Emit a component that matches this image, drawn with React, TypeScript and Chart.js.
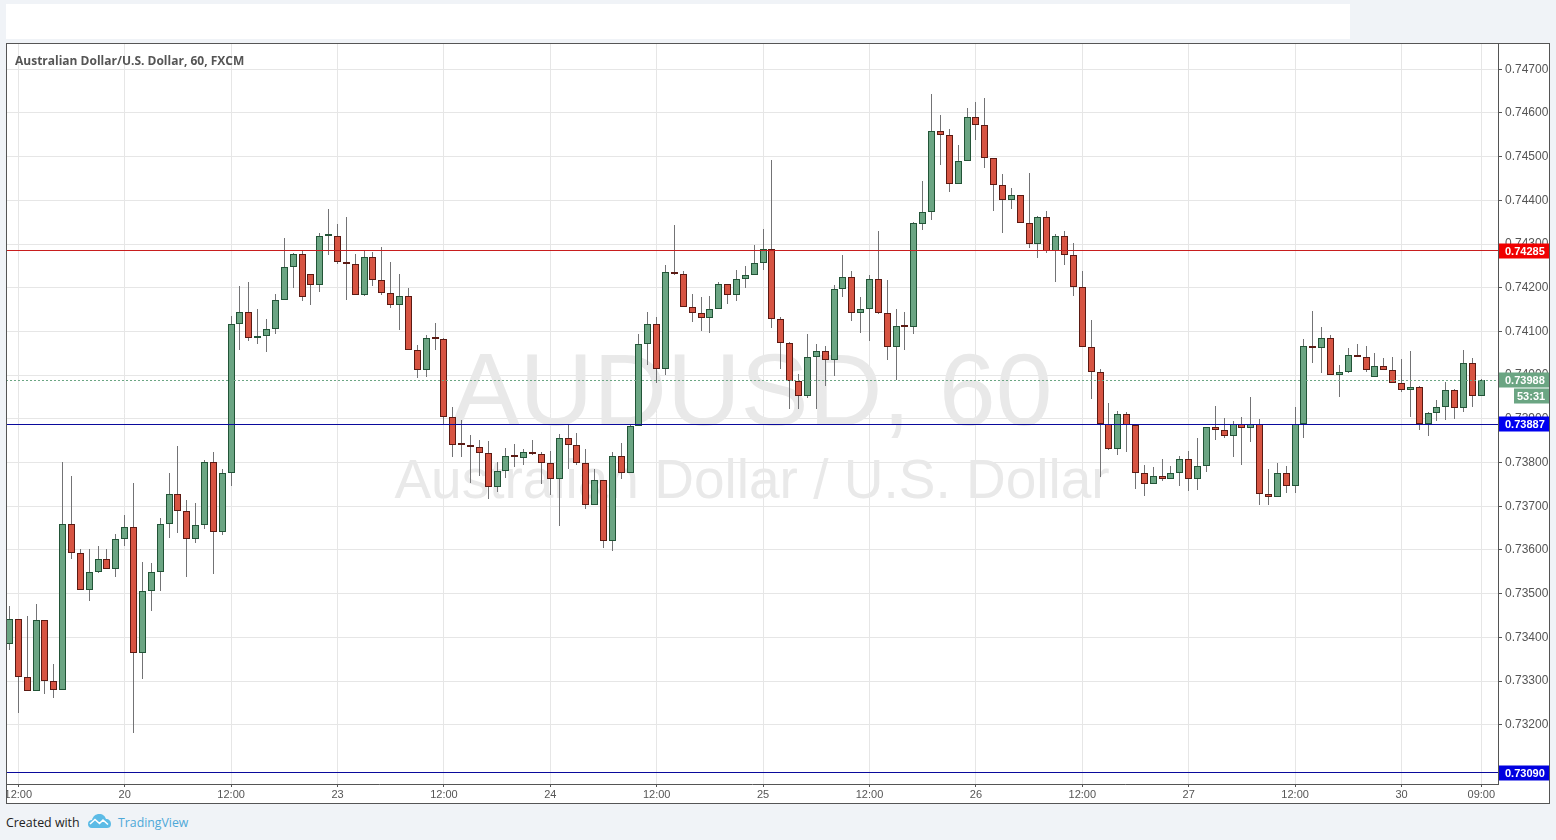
import React, { useEffect, useRef } from "react";
import { Chart, registerables } from "chart.js";

Chart.register(...registerables);

const opens = [
  .73385,.73442,.73309,.73278,.73440,.73301,.73280,.73660,.73592,.73509,
  .73550,.73580,.73557,.73626,.73653,.73365,.73505,.73550,.73660,.73729,
  .73690,.73624,.73656,.73802,.73642,.73775,.74116,.74144,.74084,.74089,
  .74105,.74171,.74247,.74277,.74231,.74206,.74318,.74318,.74258,.74254,
  .74183,.74270,.74217,.74187,.74160,.74180,.74057,.74011,.74086,.74082,
  .73903,.73841,.73841,.73835,.73821,.73745,.73780,.73816,.73811,.73823,
  .73820,.73800,.73763,.73857,.73841,.73800,.73703,.73761,.73621,.73816,
  .73777,.73884,.74072,.74118,.74015,.74237,.74232,.74157,.74141,.74131,
  .74152,.74209,.74184,.74221,.74230,.74257,.74289,.74129,.74074,.73987,
  .73953,.74042,.74056,.74035,.74198,.74225,.74143,.74152,.74221,.74143,
  .74065,.74113,.74111,.74345,.74373,.74558,.74549,.74437,.74489,.74590,
  .74572,.74496,.74435,.74400,.74412,.74347,.74299,.74361,.74285,.74318,
  .74276,.74201,.74064,.74008,.73889,.73832,.73910,.73885,.73775,.73750,
  .73768,.73763,.73775,.73809,.73763,.73793,.73882,.73875,.73860,.73889,
  .73880,.73887,.73729,.73722,.73777,.73747,.73889,.74066,.74061,.74084,
  .74000,.74007,.74046,.74041,.73996,.74021,.74011,.73982,.73966,.73973,
  .73888,.73914,.73927,.73966,.73925,.74027,.73952,
];
const closes = [
  .73442,.73309,.73278,.73440,.73301,.73280,.73660,.73592,.73509,.73550,
  .73580,.73557,.73626,.73653,.73365,.73505,.73550,.73660,.73729,.73690,
  .73624,.73656,.73802,.73642,.73775,.74116,.74144,.74084,.74089,.74105,
  .74171,.74247,.74277,.74178,.74206,.74318,.74319,.74258,.74254,.74183,
  .74270,.74217,.74187,.74160,.74180,.74057,.74011,.74086,.74082,.73903,
  .73841,.73840,.73835,.73821,.73745,.73780,.73816,.73812,.73823,.73820,
  .73800,.73763,.73857,.73841,.73800,.73703,.73761,.73621,.73816,.73777,
  .73884,.74072,.74118,.74015,.74237,.74232,.74157,.74141,.74131,.74152,
  .74209,.74184,.74221,.74230,.74257,.74289,.74129,.74074,.73987,.73953,
  .74042,.74056,.74035,.74198,.74225,.74143,.74152,.74221,.74143,.74065,
  .74113,.74111,.74347,.74373,.74558,.74549,.74437,.74489,.74590,.74572,
  .74496,.74435,.74400,.74412,.74347,.74299,.74361,.74285,.74318,.74276,
  .74201,.74064,.74008,.73889,.73832,.73910,.73885,.73775,.73750,.73768,
  .73763,.73775,.73809,.73763,.73793,.73882,.73875,.73860,.73889,.73880,
  .73887,.73729,.73722,.73777,.73747,.73889,.74066,.74061,.74084,.74000,
  .74007,.74046,.74041,.74011,.74021,.74011,.73982,.73966,.73973,.73888,
  .73914,.73927,.73966,.73925,.74027,.73952,.73988,
];
const highs = [
  .73471,.73442,.73448,.73476,.73440,.73338,.73801,.73769,.73601,.73601,
  .73608,.73601,.73637,.73679,.73752,.73573,.73571,.73674,.73777,.73837,
  .73715,.73708,.73805,.73825,.73784,.74135,.74204,.74213,.74151,.74128,
  .74185,.74314,.74279,.74284,.74231,.74326,.74380,.74346,.74362,.74277,
  .74285,.74282,.74293,.74259,.74232,.74199,.74069,.74091,.74119,.74085,
  .73926,.73897,.73863,.73851,.73849,.73801,.73833,.73842,.73832,.73851,
  .73823,.73826,.73865,.73889,.73868,.73830,.73784,.73761,.73825,.73844,
  .73889,.74095,.74145,.74134,.74253,.74343,.74239,.74186,.74178,.74180,
  .74214,.74209,.74241,.74250,.74298,.74335,.74493,.74133,.74076,.74003,
  .74095,.74072,.74067,.74207,.74275,.74239,.74178,.74230,.74330,.74218,
  .74152,.74145,.74351,.74444,.74643,.74595,.74563,.74526,.74611,.74625,
  .74634,.74496,.74460,.74428,.74412,.74462,.74364,.74375,.74322,.74329,
  .74302,.74238,.74125,.74015,.73937,.73917,.73915,.73887,.73795,.73789,
  .73809,.73793,.73814,.73827,.73855,.73882,.73930,.73901,.73896,.73903,
  .73951,.73899,.73784,.73800,.73791,.73928,.74082,.74146,.74111,.74091,
  .74023,.74061,.74071,.74066,.74050,.74039,.74041,.74036,.74055,.73975,
  .73916,.73943,.73984,.73968,.74057,.74039,.73991,
];
const lows = [
  .73370,.73227,.73278,.73278,.73270,.73261,.73280,.73579,.73509,.73483,
  .73547,.73557,.73538,.73608,.73181,.73305,.73460,.73506,.73628,.73639,
  .73538,.73616,.73648,.73545,.73634,.73747,.74057,.74079,.74072,.74054,
  .74095,.74171,.74199,.74170,.74161,.74190,.74274,.74255,.74173,.74183,
  .74180,.74205,.74183,.74154,.74103,.74057,.73994,.73996,.74058,.73886,
  .73813,.73813,.73753,.73770,.73717,.73732,.73765,.73790,.73794,.73817,
  .73751,.73726,.73655,.73785,.73795,.73694,.73703,.73604,.73598,.73762,
  .73777,.73884,.74023,.73982,.74000,.74228,.74157,.74121,.74100,.74096,
  .74152,.74162,.74169,.74199,.74230,.74241,.74107,.74015,.73923,.73922,
  .73947,.73923,.73975,.73998,.74179,.74123,.74096,.74079,.74140,.74034,
  .73989,.74057,.74093,.74333,.74356,.74480,.74418,.74437,.74489,.74537,
  .74473,.74376,.74326,.74379,.74347,.74292,.74269,.74280,.74214,.74251,
  .74180,.74064,.73946,.73766,.73828,.73818,.73825,.73740,.73724,.73750,
  .73758,.73763,.73747,.73735,.73737,.73779,.73852,.73855,.73813,.73795,
  .73847,.73703,.73703,.73720,.73731,.73731,.73856,.74027,.74004,.74000,
  .73951,.74005,.74041,.74007,.73996,.74011,.73982,.73961,.73904,.73874,
  .73861,.73895,.73897,.73899,.73916,.73927,.73952,
];

const timeTickBars = [1, 13, 25, 37, 49, 61, 73, 85, 97, 109, 121, 133, 145, 157, 166];
const timeTickLabels = ["12:00", "20", "12:00", "23", "12:00", "24", "12:00", "25", "12:00", "26", "12:00", "27", "12:00", "30", "09:00"];
const priceTicks = [0.732, 0.733, 0.734, 0.735, 0.736, 0.737, 0.738, 0.739, 0.74, 0.741, 0.742, 0.743, 0.744, 0.745, 0.746, 0.747];

const resistanceLevel = 0.74285;
const supportLevel = 0.73887;
const lowerLevel = 0.7309;
const lastPrice = 0.73988;
const countdown = "53:31";

const X_MIN = -0.387;
const X_MAX = 167.88;
const Y_MIN = 0.730643;
const Y_MAX = 0.7476;

const UP_FILL = "#6ba583";
const DOWN_FILL = "#d75442";
const UP_EDGE = "#225437";
const DOWN_EDGE = "#5b1a13";
const WICK = "#737375";
const INK = "#555555";
const SANS = '"Liberation Sans", Arial, sans-serif';

const levelLine = (y: number, color: string, dash: number[] = []) => ({
  type: "line" as const,
  data: [{ x: X_MIN, y }, { x: X_MAX, y }],
  borderColor: color,
  borderWidth: 1,
  borderDash: dash,
  pointRadius: 0,
  order: 1,
  clip: true,
});

const noPadding = (s: any) => {
  s.paddingLeft = 0;
  s.paddingRight = 0;
  s.paddingTop = 0;
  s.paddingBottom = 0;
};

const pixelSnap = {
  id: "pixelSnap",
  afterDatasetsUpdate(chart: any) {
    chart.data.datasets.forEach((ds: any, i: number) => {
      const meta = chart.getDatasetMeta(i);
      meta.data.forEach((el: any) => {
        if (ds.type === "bar") {
          el.x = Math.floor(el.x) + 0.5;
          el.y = Math.round(el.y);
          el.base = Math.round(el.base);
        } else {
          el.y = Math.floor(el.y) + 0.5;
        }
      });
    });
  },
};

const decorations = {
  id: "decorations",
  beforeDraw(chart: any) {
    const { ctx, width, height } = chart;
    ctx.save();
    ctx.fillStyle = "#ffffff";
    ctx.fillRect(0, 0, width, height);
    ctx.restore();
  },
  beforeDatasetsDraw(chart: any) {
    const { ctx, chartArea } = chart;
    const cx = (chartArea.left + chartArea.right) / 2;
    ctx.save();
    ctx.fillStyle = "#e9e9e9";
    ctx.textAlign = "center";
    ctx.textBaseline = "alphabetic";
    ctx.font = `102px ${SANS}`;
    ctx.fillText("AUDUSD, 60", cx, 382);
    ctx.font = `55px ${SANS}`;
    ctx.fillText("Australian Dollar / U.S. Dollar", cx, 455);
    ctx.restore();
  },
  afterDraw(chart: any) {
    const { ctx, width, height, chartArea } = chart;
    const y = chart.scales.y;
    const tag = (value: number, label: string, color: string, left: number, top?: number) => {
      const cy = top ?? Math.round(y.getPixelForValue(value));
      ctx.fillStyle = color;
      ctx.fillRect(left, cy - 7.5, width - 1 - left, 15);
      ctx.fillStyle = "#ffffff";
      ctx.font = `bold 11px ${SANS}`;
      ctx.textAlign = "left";
      ctx.textBaseline = "middle";
      ctx.fillText(label, left === chartArea.right + 1 ? chartArea.right + 7 : left + 3, cy + 0.5);
    };
    ctx.save();
    const sx = chartArea.right + 1;
    tag(resistanceLevel, resistanceLevel.toFixed(5), "#f00000", sx);
    tag(lastPrice, lastPrice.toFixed(5), UP_FILL, sx);
    tag(lastPrice, countdown, UP_FILL, chartArea.right + 16, Math.round(y.getPixelForValue(lastPrice)) + 16);
    tag(supportLevel, supportLevel.toFixed(5), "#0000f0", sx);
    tag(lowerLevel, lowerLevel.toFixed(5), "#0000e0", sx);

    ctx.fillStyle = INK;
    ctx.font = 'bold 12px "Open Sans", sans-serif';
    ctx.textAlign = "left";
    ctx.textBaseline = "middle";
    ctx.fillText("Australian Dollar/U.S. Dollar, 60, FXCM", 9, 18.5);

    ctx.strokeStyle = INK;
    ctx.lineWidth = 1;
    ctx.strokeRect(0.5, 0.5, width - 1, height - 1);
    ctx.restore();
  },
};

export default function App() {
  const ref = useRef<HTMLCanvasElement | null>(null);

  useEffect(() => {
    if (!ref.current) return;
    const isUp = (i: number) => closes[i] >= opens[i];
    const chart = new Chart(ref.current, {
      type: "bar",
      data: {
        datasets: [
          {
            type: "bar",
            data: opens.map((_, i) => ({ x: i, y: [lows[i], highs[i]] })),
            backgroundColor: WICK,
            borderWidth: 0,
            barThickness: 1,
            grouped: false,
            inflateAmount: 0,
            order: 3,
          },
          {
            type: "bar",
            data: opens.map((o, i) => ({ x: i, y: [o, closes[i]] })),
            backgroundColor: (c: any) => (isUp(c.dataIndex) ? UP_FILL : DOWN_FILL),
            borderColor: (c: any) => (isUp(c.dataIndex) ? UP_EDGE : DOWN_EDGE),
            borderWidth: 1,
            borderSkipped: false,
            barThickness: 7,
            minBarLength: 2,
            grouped: false,
            inflateAmount: 0,
            order: 2,
          },
          levelLine(resistanceLevel, "#c81e1e"),
          levelLine(supportLevel, "#0a0a9c"),
          levelLine(lowerLevel, "#0a0a9c"),
          levelLine(lastPrice, UP_FILL, [2, 2]),
        ],
      } as any,
      options: {
        animation: false,
        responsive: false,
        devicePixelRatio: 1,
        layout: { padding: 0 },
        plugins: { legend: { display: false }, tooltip: { enabled: false } },
        events: [],
        scales: {
          x: {
            type: "linear",
            min: X_MIN,
            max: X_MAX,
            offset: false,
            afterBuildTicks: (s: any) => {
              s.ticks = timeTickBars.map((value) => ({ value }));
            },
            afterFit: (s: any) => {
              s.height = 20;
              noPadding(s);
            },
            ticks: {
              autoSkip: false,
              maxRotation: 0,
              padding: 1,
              color: INK,
              font: { family: SANS, size: 11 },
              callback: (v: any) => timeTickLabels[timeTickBars.indexOf(Number(v))] ?? "",
            },
            grid: { offset: false, color: "#e6e6e6", lineWidth: 1, tickLength: 3, tickColor: INK, drawTicks: true },
            border: { color: INK, width: 1 },
          },
          y: {
            type: "linear",
            position: "right",
            min: Y_MIN,
            max: Y_MAX,
            afterBuildTicks: (s: any) => {
              s.ticks = priceTicks.map((value) => ({ value }));
            },
            afterFit: (s: any) => {
              s.width = 52;
              noPadding(s);
            },
            ticks: {
              autoSkip: false,
              padding: 3,
              color: INK,
              font: { family: SANS, size: 12 },
              callback: (v: any) => Number(v).toFixed(5),
            },
            grid: { color: "#e6e6e6", lineWidth: 1, tickLength: 4, tickColor: INK, drawTicks: true },
            border: { color: INK, width: 1 },
          },
        },
      } as any,
      plugins: [pixelSnap, decorations],
    } as any);
    return () => chart.destroy();
  }, []);

  return (
    <div style={{ position: "fixed", inset: 0, background: "#f0f3f7", overflow: "hidden" }}>
      <div style={{ position: "absolute", left: 6, top: 4, width: 1344, height: 35, background: "#ffffff" }} />
      <canvas ref={ref} width={1544} height={761} style={{ position: "absolute", left: 6, top: 43, width: 1544, height: 761 }} />
      <span style={{ position: "absolute", left: 6, top: 813, fontFamily: '"Open Sans", sans-serif', fontSize: 12.4, lineHeight: "20px", color: "#222222" }}>
        Created with
      </span>
      <svg style={{ position: "absolute", left: 87, top: 813 }} width={25} height={16} viewBox="0 0 25 16">
        <path d="M1 11 C1 8 3 7 5 7 C6 3 9 1 12 1 C16 1 18 3 19 6 C22 6 24 8 24 11 C24 14 22 15 20 15 L5 15 C2 15 1 13 1 11 Z" fill="#5cbbe6" />
        <path d="M3 11 L8 6.5 L12.5 10.5 L16 7 L21 11.5" fill="none" stroke="#ffffff" strokeWidth={1.6} />
      </svg>
      <span style={{ position: "absolute", left: 118, top: 813, fontFamily: '"Open Sans", sans-serif', fontSize: 12.3, lineHeight: "20px", color: "#4ea8d8" }}>
        TradingView
      </span>
    </div>
  );
}
